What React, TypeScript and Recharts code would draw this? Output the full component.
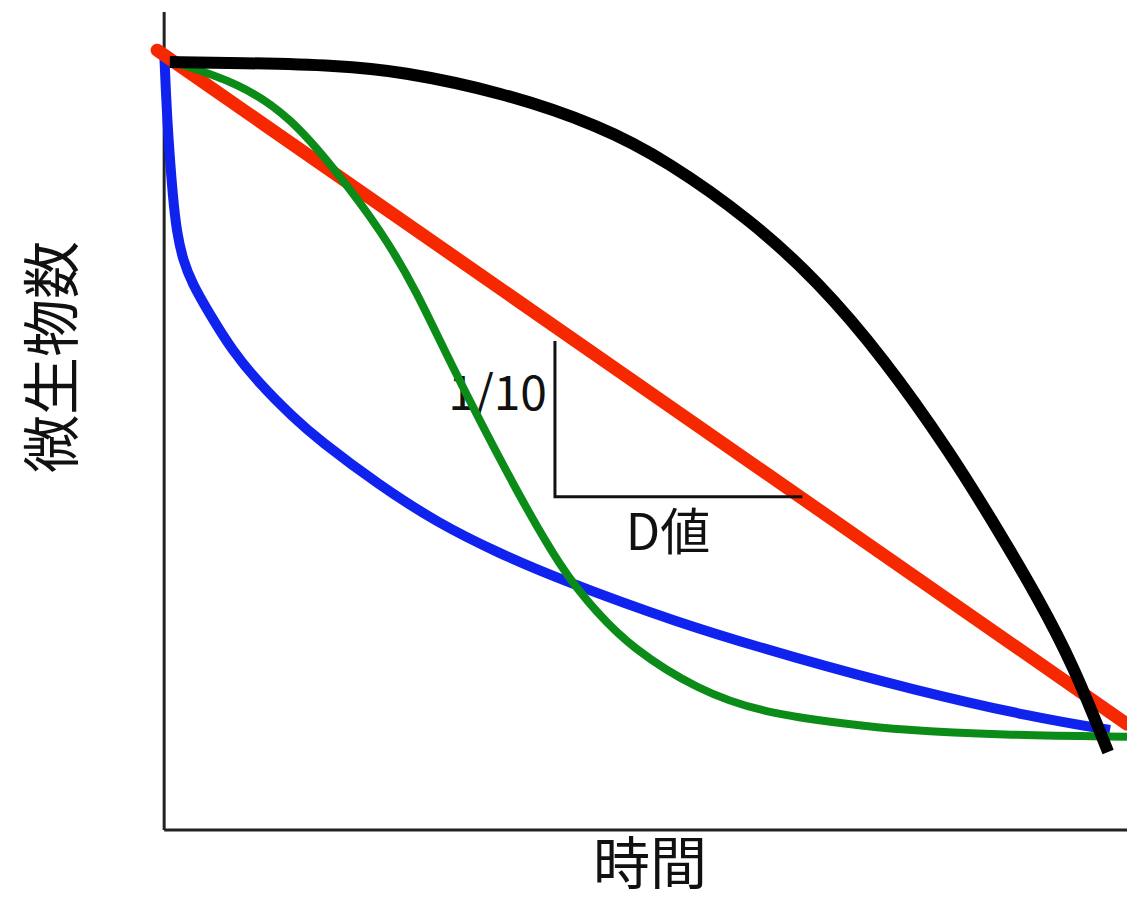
import { LineChart, Line, XAxis, YAxis, ReferenceLine, Customized } from "recharts";

// time (arbitrary units) vs log microbial count
const redTime = [-0.75, 102];
const redLog = [8.0, 0.05];

const blackTime = [0.6, 8, 18.6, 25, 35.6, 46.2, 53.3, 62.1, 69.2, 76.2, 83.3, 88.6, 92.5, 96.3, 100];
const blackLog = [7.86, 7.85, 7.82, 7.75, 7.51, 7.11, 6.69, 6.0, 5.28, 4.37, 3.25, 2.29, 1.55, 0.75, -0.28];

const greenTime = [0.95, 8.05, 13.35, 17.9, 23.2, 26.8, 30.0, 36.65, 42.3, 45.9, 49.4, 56.5, 63.5, 72.4, 78, 88.6, 102];
const greenLog = [7.86, 7.61, 7.21, 6.62, 5.84, 5.14, 4.38, 2.93, 1.83, 1.36, 0.96, 0.45, 0.18, 0.05, -0.02, -0.08, -0.1];

const blueTime = [0, 0.2, 0.41, 0.94, 1.36, 2.0, 2.95, 4.86, 7.19, 10.05, 13.65, 16.4, 22.76, 29.01, 35.37, 41.62, 54.22, 66.83, 79.44, 92.04, 100.2];
const blueLog = [7.98, 7.47, 7.02, 6.23, 5.84, 5.52, 5.25, 4.88, 4.46, 4.07, 3.67, 3.4, 2.87, 2.42, 2.07, 1.77, 1.25, 0.83, 0.45, 0.13, -0.02];

// D-value bracket on the straight line
const bracketTime = [41.4, 41.4, 67.6];
const bracketLog = [4.57, 2.73, 2.73];

const zip = (t: number[], v: number[]) => t.map((x, i) => ({ t: x, v: v[i] }));

const font = "'Noto Sans CJK JP', 'Noto Sans', sans-serif";

function Labels() {
  return (
    <g fontFamily={font} fill="#111">
      <text x={547} y={410} fontSize={48} textAnchor="end">1/10</text>
      <text x={668} y={550} fontSize={50} textAnchor="middle">D値</text>
      <text x={650} y={884} fontSize={57} textAnchor="middle">時間</text>
      <text
        x={48}
        y={357}
        fontSize={58}
        textAnchor="middle"
        dominantBaseline="central"
        transform="rotate(-90 48 357)"
      >
        微生物数
      </text>
    </g>
  );
}

export default function App() {
  return (
    <div style={{ position: "absolute", left: 0, top: 0, background: "#fff" }}>
      <LineChart width={1127} height={901} margin={{ top: 12, right: 0, bottom: 71, left: 150 }}>
        <XAxis dataKey="t" type="number" domain={[-1.5, 102]} allowDataOverflow hide />
        <YAxis dataKey="v" type="number" domain={[-1.2, 8.45]} allowDataOverflow hide />

        <ReferenceLine x={0} stroke="#222" strokeWidth={3} />
        <ReferenceLine
          segment={[{ x: 0, y: -1.2 }, { x: 102, y: -1.2 }]}
          stroke="#222"
          strokeWidth={3}
        />

        <Line
          data={zip(blueTime, blueLog)}
          dataKey="v"
          type="basis"
          stroke="#1023ee"
          strokeWidth={10}
          dot={false}
          isAnimationActive={false}
        />
        <Line
          data={zip(redTime, redLog)}
          dataKey="v"
          type="linear"
          stroke="#f52800"
          strokeWidth={13}
          strokeLinecap="round"
          dot={false}
          isAnimationActive={false}
        />
        <Line
          data={zip(greenTime, greenLog)}
          dataKey="v"
          type="basis"
          stroke="#0b8c18"
          strokeWidth={8}
          dot={false}
          isAnimationActive={false}
        />
        <Line
          data={zip(blackTime, blackLog)}
          dataKey="v"
          type="basis"
          stroke="#000"
          strokeWidth={12}
          dot={false}
          isAnimationActive={false}
        />
        <Line
          data={zip(bracketTime, bracketLog)}
          dataKey="v"
          type="linear"
          stroke="#111"
          strokeWidth={3}
          dot={false}
          isAnimationActive={false}
        />

        <Customized component={Labels} />
      </LineChart>
    </div>
  );
}
